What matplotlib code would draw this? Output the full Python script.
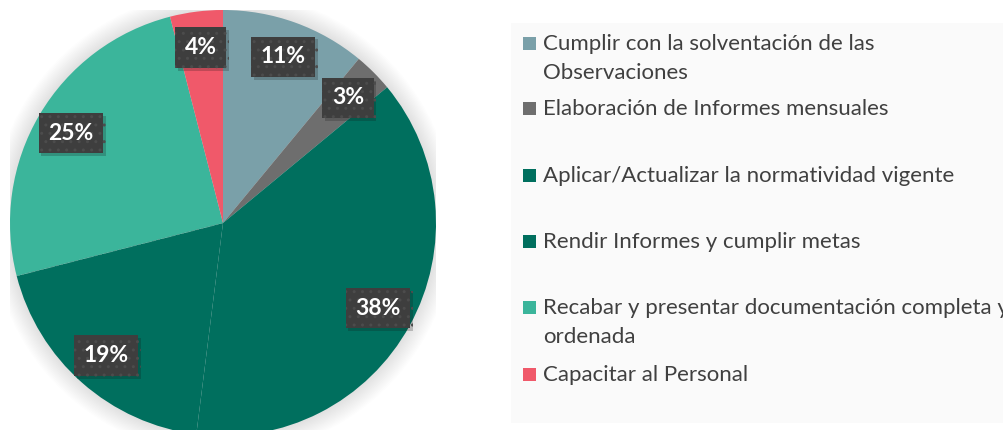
import matplotlib
matplotlib.use("Agg")
import numpy as np
import matplotlib.pyplot as plt
from matplotlib.patches import Rectangle, Circle
import matplotlib.patheffects as pe

# Datos del grafico
categorias = [
    "Cumplir con la solventación de las\nObservaciones",
    "Elaboración de Informes mensuales",
    "Aplicar/Actualizar la normatividad vigente",
    "Rendir Informes y cumplir metas",
    "Recabar y presentar documentación completa y\nordenada",
    "Capacitar al Personal",
]
porcentajes = [11, 3, 38, 19, 25, 4]
colores = ["#7AA0A9", "#6E6E6E", "#006F5E", "#006F5E", "#3BB59B", "#F0596A"]

W, H = 1004, 430
fig = plt.figure(figsize=(W / 100, H / 100), dpi=100)
fig.patch.set_facecolor("white")

# fondo de la leyenda
fig.patches.append(Rectangle((511 / W, (H - 423) / H), (W - 511) / W, 400 / H,
                             transform=fig.transFigure, facecolor="#FAFAFA",
                             edgecolor="none", zorder=0))

# ejes del pastel: centro (223, 223) px, radio 213 px
cx, cy, r = 223, 223, 213
ax = fig.add_axes([(cx - r) / W, (H - cy - r) / H, 2 * r / W, 2 * r / H])
ax.axis("off")

# sombra suave alrededor del pastel
for k in range(16):
    ax.add_patch(Circle((0, 0), 1.0 + 0.006 * k, facecolor="#000000",
                        alpha=0.006, edgecolor="none", zorder=0))

wedges, textos, pct = ax.pie(
    porcentajes, colors=colores, startangle=90, counterclock=False,
    autopct="%d%%", pctdistance=0.83, radius=1,
    wedgeprops=dict(linewidth=0, zorder=2),
    textprops=dict(color="white", fontsize=16.5, fontweight="bold",
                   family=["Lato", "DejaVu Sans"]),
)
ax.set_xlim(-1, 1)
ax.set_ylim(-1, 1)

for t in pct:
    t.set_zorder(5)
    t.set_bbox(dict(boxstyle="square,pad=0.42", facecolor="#3E3E3E",
                    edgecolor="#4C4C4C", hatch="..", linewidth=0))
    t.get_bbox_patch().set_path_effects(
        [pe.SimplePatchShadow(offset=(2, -2), alpha=0.22), pe.Normal()])

# linea tenue entre las dos porciones verde oscuro
ang = np.deg2rad(wedges[3].theta1)
ax.plot([0, np.cos(ang)], [0, np.sin(ang)], color="#4E9C8C", lw=0.6,
        ls=(0, (3, 3)), zorder=3)

# leyenda
fila_y = [43, 108, 175, 241, 307, 374]
for cat, col, y in zip(categorias, colores, fila_y):
    fig.patches.append(Rectangle((523 / W, (H - y - 7) / H), 13 / W, 13 / H,
                                 transform=fig.transFigure, facecolor=col,
                                 edgecolor="none", zorder=2))
    for i, linea in enumerate(cat.split("\n")):
        fig.text(543 / W, (H - y - 7 - 29 * i) / H, linea, ha="left",
                 va="baseline", fontsize=16, color="#404040",
                 family=["Lato", "DejaVu Sans"])

fig.savefig("out.png", dpi=100)
